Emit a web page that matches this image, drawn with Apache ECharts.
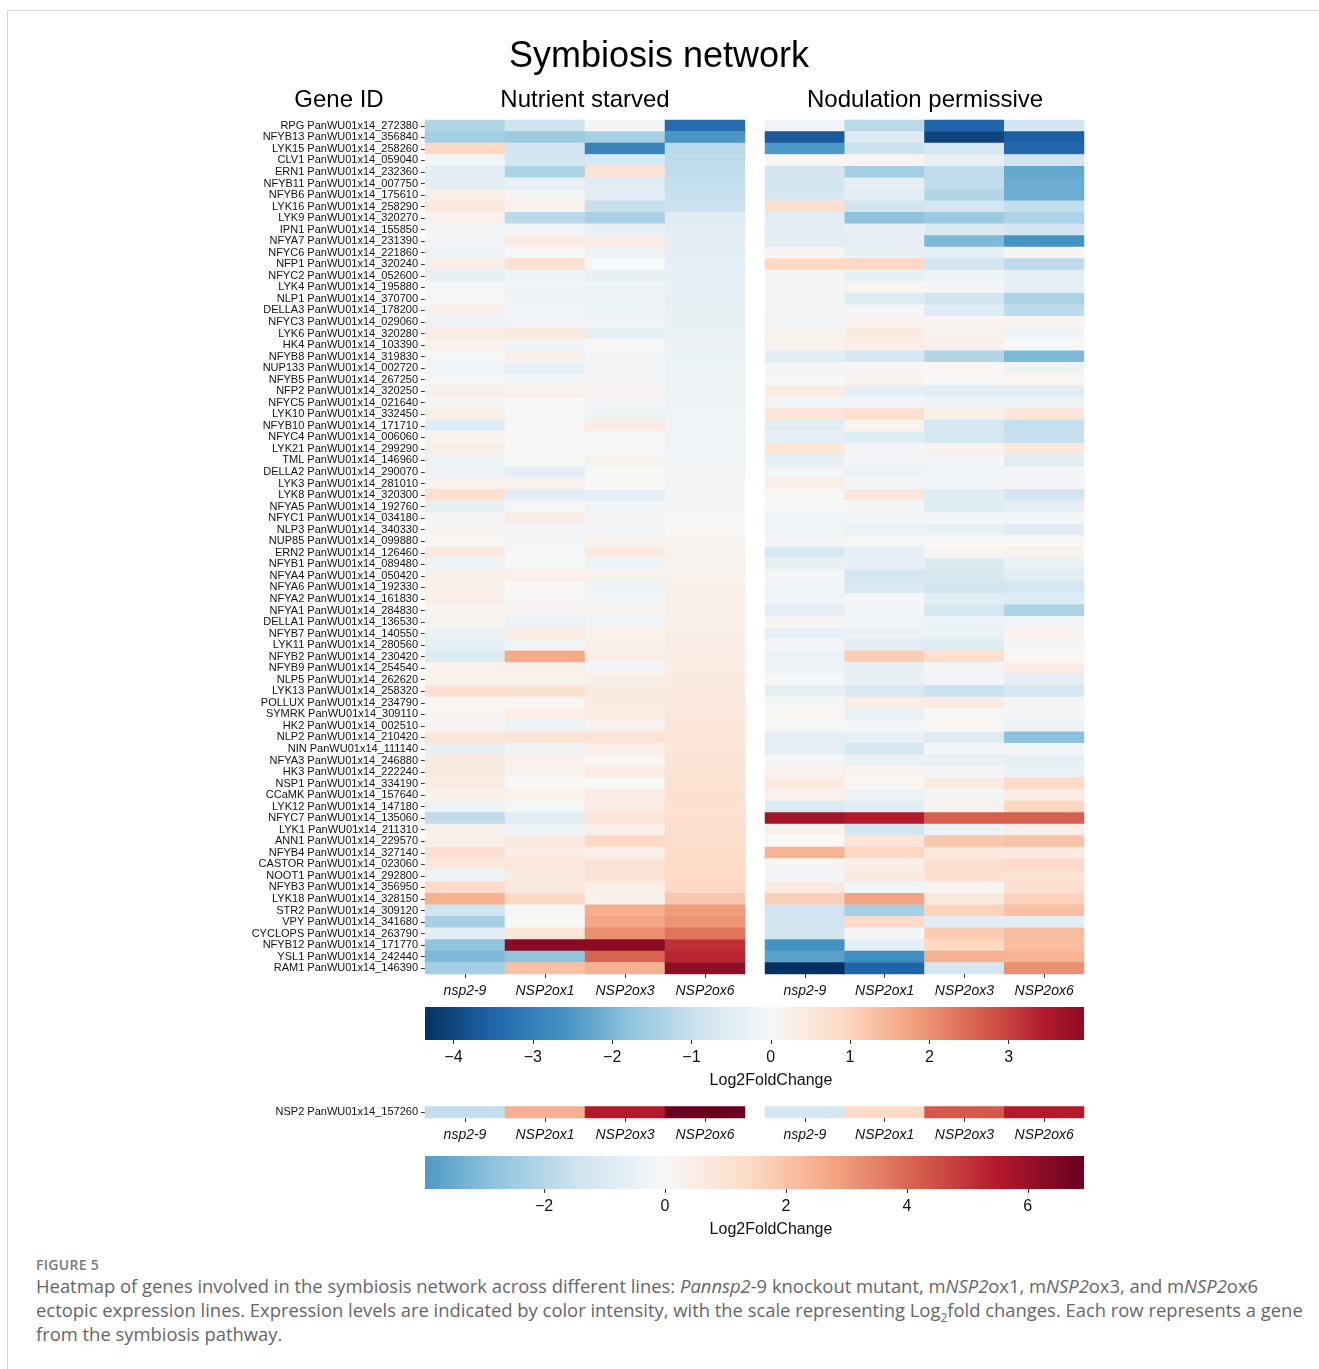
<!DOCTYPE html>
<html>
<head>
<meta charset="utf-8">
<title>Symbiosis network</title>
<script src="https://cdn.jsdelivr.net/npm/echarts@6/dist/echarts.min.js"></script>
<style>
  html, body { margin: 0; padding: 0; background: #ffffff; }
  #frame { position: absolute; left: 7px; top: 10px; width: 1340px; height: 1400px;
           border-top: 1px solid #d4d4d4; border-left: 1px solid #d4d4d4; box-sizing: border-box; }
  #chart { position: absolute; left: 0; top: 0; width: 1319px; height: 1250px; }
  #figlabel { position: absolute; left: 36px; top: 1255px; font-family: "Open Sans", sans-serif;
              font-size: 14px; font-weight: 600; color: #7a7a7a; letter-spacing: 0.3px; }
  #caption { position: absolute; left: 36px; top: 1274px; width: 1272px; font-family: "Open Sans", sans-serif;
             font-size: 18.4px; line-height: 24px; color: #666666; }
  #caption sub { font-size: 12px; line-height: 0; }
</style>
</head>
<body>
<div id="frame"></div>
<div id="chart"></div>
<div id="figlabel">FIGURE 5</div>
<div id="caption">Heatmap of genes involved in the symbiosis network across different lines: <i>Pannsp2</i>-9 knockout mutant, m<i>NSP2</i>ox1, m<i>NSP2</i>ox3, and m<i>NSP2</i>ox6 ectopic expression lines. Expression levels are indicated by color intensity, with the scale representing Log<sub>2</sub>fold changes. Each row represents a gene from the symbiosis pathway.</div>
<script>
// ---- gene rows (top to bottom) ----
const genes = [
  'RPG PanWU01x14_272380','NFYB13 PanWU01x14_356840','LYK15 PanWU01x14_258260','CLV1 PanWU01x14_059040',
  'ERN1 PanWU01x14_232360','NFYB11 PanWU01x14_007750','NFYB6 PanWU01x14_175610','LYK16 PanWU01x14_258290',
  'LYK9 PanWU01x14_320270','IPN1 PanWU01x14_155850','NFYA7 PanWU01x14_231390','NFYC6 PanWU01x14_221860',
  'NFP1 PanWU01x14_320240','NFYC2 PanWU01x14_052600','LYK4 PanWU01x14_195880','NLP1 PanWU01x14_370700',
  'DELLA3 PanWU01x14_178200','NFYC3 PanWU01x14_029060','LYK6 PanWU01x14_320280','HK4 PanWU01x14_103390',
  'NFYB8 PanWU01x14_319830','NUP133 PanWU01x14_002720','NFYB5 PanWU01x14_267250','NFP2 PanWU01x14_320250',
  'NFYC5 PanWU01x14_021640','LYK10 PanWU01x14_332450','NFYB10 PanWU01x14_171710','NFYC4 PanWU01x14_006060',
  'LYK21 PanWU01x14_299290','TML PanWU01x14_146960','DELLA2 PanWU01x14_290070','LYK3 PanWU01x14_281010',
  'LYK8 PanWU01x14_320300','NFYA5 PanWU01x14_192760','NFYC1 PanWU01x14_034180','NLP3 PanWU01x14_340330',
  'NUP85 PanWU01x14_099880','ERN2 PanWU01x14_126460','NFYB1 PanWU01x14_089480','NFYA4 PanWU01x14_050420',
  'NFYA6 PanWU01x14_192330','NFYA2 PanWU01x14_161830','NFYA1 PanWU01x14_284830','DELLA1 PanWU01x14_136530',
  'NFYB7 PanWU01x14_140550','LYK11 PanWU01x14_280560','NFYB2 PanWU01x14_230420','NFYB9 PanWU01x14_254540',
  'NLP5 PanWU01x14_262620','LYK13 PanWU01x14_258320','POLLUX PanWU01x14_234790','SYMRK PanWU01x14_309110',
  'HK2 PanWU01x14_002510','NLP2 PanWU01x14_210420','NIN PanWU01x14_111140','NFYA3 PanWU01x14_246880',
  'HK3 PanWU01x14_222240','NSP1 PanWU01x14_334190','CCaMK PanWU01x14_157640','LYK12 PanWU01x14_147180',
  'NFYC7 PanWU01x14_135060','LYK1 PanWU01x14_211310','ANN1 PanWU01x14_229570','NFYB4 PanWU01x14_327140',
  'CASTOR PanWU01x14_023060','NOOT1 PanWU01x14_292800','NFYB3 PanWU01x14_356950','LYK18 PanWU01x14_328150',
  'STR2 PanWU01x14_309120','VPY PanWU01x14_341680','CYCLOPS PanWU01x14_263790','NFYB12 PanWU01x14_171770',
  'YSL1 PanWU01x14_242440','RAM1 PanWU01x14_146390'
];
const lines = ['nsp2-9', 'NSP2ox1', 'NSP2ox3', 'NSP2ox6'];

// ---- Log2FoldChange, Nutrient starved ----
const starvedNsp29 = [-1.3,-1.5,0.9,-0.15,-0.5,-0.45,0.25,0.5,0.2,-0.08,-0.08,-0.22,0.25,-0.35,-0.05,-0.03,0.22,-0.22,0.35,0.2,
  -0.03,-0.18,-0.05,0.22,-0.08,0.25,-0.55,0.12,0.25,-0.22,-0.22,0.15,0.75,-0.35,-0.1,0.1,0.07,0.45,-0.2,0.28,
  0.22,0.28,0.1,0.1,-0.22,-0.42,-0.6,0.2,0.2,0.7,0.08,0.1,0.1,0.55,-0.35,0.38,0.38,0.32,0.22,-0.22,
  -1.1,0.22,0.25,0.7,0.45,-0.2,0.85,1.55,-0.88,-1.45,-0.45,-1.75,-1.95,-1.5];
const starvedOx1 = [-0.9,-1.6,-0.8,-0.8,-1.4,-0.35,-0.12,0.2,-1.2,-0.1,0.35,-0.03,0.7,-0.2,-0.15,-0.25,-0.18,-0.15,0.42,-0.2,
  0.22,-0.38,-0.12,0.2,-0.05,-0.03,-0.03,-0.02,-0.02,0,-0.42,0.15,-0.45,-0.05,0.3,-0.1,-0.08,-0.05,-0.05,0.18,
  -0.02,-0.03,0.13,-0.25,0.33,-0.15,1.65,0.22,0.2,0.7,0.05,0.28,-0.2,0.62,-0.22,0.18,0.15,0.02,0.2,-0.05,
  -0.52,-0.25,0.4,0.32,0.5,0.45,0.45,0.88,-0.1,0.02,0.55,3.95,-1.75,1.3];
const starvedOx3 = [-0.1,-1.45,-2.9,-0.75,0.6,-0.55,-0.45,-1.0,-1.45,-0.35,0.33,-0.2,-0.05,-0.35,-0.2,-0.22,-0.2,-0.12,-0.35,0,
  -0.08,-0.08,-0.08,0.12,-0.1,-0.22,0.35,-0.03,-0.03,0.15,0,0,-0.43,-0.15,-0.08,-0.12,0.15,0.45,-0.2,0.15,
  -0.22,-0.08,0.1,-0.15,0.2,0.25,0.28,-0.08,0.25,0.38,0.4,0.37,0.12,0.6,0.28,0.05,0.35,0.02,0.32,0.35,
  0.55,0.25,0.9,0.28,0.6,0.62,0.25,0.2,1.6,1.7,2.0,3.93,2.55,1.55];
const starvedOx6 = [-3.4,-2.55,-1.2,-1.15,-1.1,-1.05,-1.0,-0.95,-0.55,-0.5,-0.48,-0.45,-0.42,-0.4,-0.38,-0.36,-0.33,-0.32,-0.3,-0.28,
  -0.26,-0.25,-0.22,-0.2,-0.19,-0.18,-0.17,-0.16,-0.15,-0.13,-0.12,-0.1,-0.08,-0.06,0.04,0.07,0.1,0.14,0.17,0.2,
  0.22,0.24,0.26,0.28,0.3,0.32,0.35,0.37,0.4,0.45,0.48,0.5,0.53,0.56,0.58,0.61,0.64,0.66,0.69,0.72,
  0.75,0.77,0.8,0.82,0.85,0.87,0.9,1.2,1.85,1.95,2.35,3.2,3.3,3.9];

// ---- Log2FoldChange, Nodulation permissive ----
const nodNsp29 = [-0.15,-3.7,-2.5,0.1,-0.85,-0.83,-0.78,0.75,-0.48,-0.45,-0.45,0.1,0.9,-0.1,-0.1,-0.1,-0.1,-0.15,0.15,0.18,
  -0.48,-0.06,-0.05,0.38,-0.15,0.55,-0.48,-0.4,0.55,-0.4,-0.1,0.25,0,0,-0.18,-0.18,-0.1,-0.7,-0.35,-0.1,
  -0.18,-0.18,-0.42,0.1,-0.38,-0.1,-0.25,-0.2,-0.05,-0.35,-0.05,0.08,-0.05,-0.43,-0.43,-0.08,0.18,0.45,0.18,-0.65,
  3.65,0.2,0,1.52,0.1,-0.1,0.45,1.05,-0.85,-0.85,-0.85,-2.6,-2.35,-4.36];
const nodOx1 = [-1.2,-0.6,-0.95,0.12,-1.5,-0.37,-0.48,-0.87,-1.78,-0.35,-0.42,-0.32,0.9,-0.32,0.1,-0.58,-0.1,0.12,0.38,0.3,
  -0.78,-0.03,0.15,-0.43,-0.15,0.75,0.15,-0.55,-0.12,-0.12,-0.25,-0.08,0.48,-0.1,-0.1,-0.22,-0.05,-0.38,-0.38,-0.78,
  -0.7,-0.1,-0.12,-0.15,-0.28,-0.48,1.1,-0.35,-0.35,-0.68,0.33,-0.3,-0.08,-0.35,-0.78,-0.3,0.1,0.08,-0.22,-0.48,
  3.5,-0.85,0.62,0.92,0.25,0.4,-0.18,1.75,-1.45,0.85,-0.08,-0.43,-2.7,-3.5];
const nodOx3 = [-3.5,-4.05,-0.78,-0.35,-1.1,-1.12,-1.3,-0.85,-1.62,-0.65,-1.95,-0.43,-0.8,-0.22,-0.08,-0.85,-0.58,0.12,0.12,0.22,
  -1.3,0.07,0.05,-0.5,-0.22,0.25,-0.78,-0.78,0.15,-0.08,-0.15,-0.15,-0.48,-0.58,-0.1,-0.3,0,0.12,-0.65,-0.72,
  -0.82,-0.52,-0.78,-0.22,-0.3,-0.58,0.75,-0.08,-0.12,-0.95,0.33,-0.02,0.08,-0.58,-0.08,-0.35,-0.08,0.38,-0.08,0.18,
  2.62,-0.25,1.2,0.48,0.75,0.75,0.1,0.45,1.0,-0.48,1.15,0.92,1.55,-0.85];
const nodOx6 = [-0.8,-3.6,-3.45,-0.85,-2.25,-2.15,-2.15,-1.08,-1.38,-0.8,-2.6,0.1,-1.15,-0.43,-0.4,-1.38,-1.12,0.1,-0.2,0.02,
  -1.95,-0.2,0.07,-0.5,-0.22,0.55,-1.05,-0.98,0.48,-0.52,-0.08,-0.08,-0.85,-0.43,-0.1,-0.48,0,0.15,-0.3,-0.5,
  -0.78,-0.6,-1.4,-0.15,0.18,-0.08,0.05,0.32,-0.43,-0.78,-0.08,-0.08,-0.22,-1.8,-0.12,-0.38,-0.3,0.85,0.32,0.95,
  2.62,0.3,1.28,0.42,0.85,0.65,0.7,1.0,1.3,-0.52,1.35,1.35,1.52,2.0];

// ---- NSP2 itself, on its own scale ----
const nsp2Gene = ['NSP2 PanWU01x14_157260'];
const nsp2Starved = [-1.7, 2.5, 5.5, 6.9];
const nsp2Nodulation = [-1.25, 1.4, 4.3, 5.5];

// ---- colour scale ranges and tick labels ----
const mainRange = [-4.36, 3.95];
const mainTicks = [-4, -3, -2, -1, 0, 1, 2, 3];
const nsp2Range = [-3.97, 6.93];
const nsp2Ticks = [-2, 0, 2, 4, 6];

// Diverging red-blue palette (reversed RdBu), centred on zero
const RDBU_R = ['#053061','#2166ac','#4393c3','#92c5de','#d1e5f0','#f7f7f7','#fddbc7','#f4a582','#d6604d','#b2182b','#67001f'];
function hexToRgb(h) { return [parseInt(h.slice(1,3),16), parseInt(h.slice(3,5),16), parseInt(h.slice(5,7),16)]; }
function cmap(t) {
  t = Math.max(0, Math.min(1, t));
  const p = t * (RDBU_R.length - 1);
  const i = Math.min(Math.floor(p), RDBU_R.length - 2);
  const f = p - i;
  const a = hexToRgb(RDBU_R[i]), b = hexToRgb(RDBU_R[i + 1]);
  const c = a.map((v, k) => Math.round(v + (b[k] - v) * f));
  return 'rgb(' + c.join(',') + ')';
}
// colours sampled evenly across [lo, hi], with white fixed at 0
function sampleColors(lo, hi, n) {
  const half = Math.max(Math.abs(lo), Math.abs(hi));
  const out = [];
  for (let k = 0; k < n; k++) {
    const v = lo + (hi - lo) * k / (n - 1);
    out.push(cmap(0.5 + v / (2 * half)));
  }
  return out;
}
const N_STOPS = 96;
const mainColors = sampleColors(mainRange[0], mainRange[1], N_STOPS);
const nsp2Colors = sampleColors(nsp2Range[0], nsp2Range[1], N_STOPS);

function cells(columns) {
  const out = [];
  columns.forEach((col, c) => col.forEach((v, r) => out.push([c, r, v])));
  return out;
}
const starvedCells = cells([starvedNsp29, starvedOx1, starvedOx3, starvedOx6]);
const nodCells = cells([nodNsp29, nodOx1, nodOx3, nodOx6]);
const nsp2StarvedCells = nsp2Starved.map((v, c) => [c, 0, v]);
const nsp2NodCells = nsp2Nodulation.map((v, c) => [c, 0, v]);

const FONT = '"Liberation Sans", Arial, sans-serif';
const TICK_COLOR = '#333';

function lineAxis(gridIndex) {
  return {
    type: 'category', data: lines, gridIndex: gridIndex, position: 'bottom',
    axisLine: { show: false },
    axisTick: { show: true, alignWithLabel: true, length: 4, lineStyle: { color: TICK_COLOR } },
    axisLabel: { fontFamily: FONT, fontSize: 14, fontStyle: 'italic', color: '#111', margin: 10, interval: 0 },
    splitLine: { show: false }
  };
}
function geneAxis(gridIndex, data, show) {
  return {
    type: 'category', data: data, gridIndex: gridIndex, inverse: true,
    axisLine: { show: false },
    axisTick: { show: show, alignWithLabel: true, length: 4, lineStyle: { color: TICK_COLOR } },
    axisLabel: { show: show, fontFamily: FONT, fontSize: 11, color: '#111', margin: 7, interval: 0 },
    splitLine: { show: false }
  };
}
function barAxis(gridIndex, range, ticks) {
  return {
    type: 'value', gridIndex: gridIndex, min: range[0], max: range[1],
    axisLine: { show: false }, splitLine: { show: false },
    axisTick: { show: true, length: 4, customValues: ticks, lineStyle: { color: TICK_COLOR } },
    axisLabel: { customValues: ticks, fontFamily: FONT, fontSize: 16, color: '#111', margin: 10,
                 formatter: v => (v < 0 ? '\u2212' + Math.abs(v) : String(v)) },
    name: 'Log2FoldChange', nameLocation: 'middle', nameGap: 33,
    nameTextStyle: { fontFamily: FONT, fontSize: 16, color: '#111', padding: [0, 0, 0, 33] }
  };
}
function colorBar(xIndex, yIndex, range, colors) {
  const stops = colors.map((c, k) => ({ offset: k / (colors.length - 1), color: c }));
  return {
    type: 'custom', xAxisIndex: xIndex, yAxisIndex: yIndex, silent: true,
    encode: { x: [0, 1] },
    data: [[range[0], range[1]]],
    renderItem: function (params, api) {
      const p0 = api.coord([api.value(0), 0]);
      const p1 = api.coord([api.value(1), 1]);
      return {
        type: 'rect',
        shape: { x: p0[0], y: p1[1], width: p1[0] - p0[0], height: p0[1] - p1[1] },
        style: { fill: new echarts.graphic.LinearGradient(0, 0, 1, 0, stops) }
      };
    }
  };
}
function heat(xIndex, yIndex, data) {
  return {
    type: 'heatmap', xAxisIndex: xIndex, yAxisIndex: yIndex, data: data,
    itemStyle: { borderWidth: 0 }, emphasis: { disabled: true }, progressive: 0
  };
}

const chart = echarts.init(document.getElementById('chart'), null, { renderer: 'canvas' });
chart.setOption({
  backgroundColor: 'transparent',
  animation: false,
  graphic: [
    { type: 'text', x: 659, y: 57, style: { text: 'Symbiosis network', font: '36px ' + FONT, fill: '#000', align: 'center', verticalAlign: 'middle' } },
    { type: 'text', x: 339, y: 100, style: { text: 'Gene ID', font: '24px ' + FONT, fill: '#000', align: 'center', verticalAlign: 'middle' } },
    { type: 'text', x: 585, y: 100, style: { text: 'Nutrient starved', font: '24px ' + FONT, fill: '#000', align: 'center', verticalAlign: 'middle' } },
    { type: 'text', x: 925, y: 100, style: { text: 'Nodulation permissive', font: '24px ' + FONT, fill: '#000', align: 'center', verticalAlign: 'middle' } }
  ],
  grid: [
    { left: 425, top: 120, width: 320, height: 854 },
    { left: 765, top: 120, width: 319, height: 854 },
    { left: 425, top: 1007, width: 659, height: 33 },
    { left: 425, top: 1106.5, width: 320, height: 11.5 },
    { left: 765, top: 1106.5, width: 319, height: 11.5 },
    { left: 425, top: 1156, width: 659, height: 33 }
  ],
  xAxis: [
    lineAxis(0), lineAxis(1),
    barAxis(2, mainRange, mainTicks),
    lineAxis(3), lineAxis(4),
    barAxis(5, nsp2Range, nsp2Ticks)
  ],
  yAxis: [
    geneAxis(0, genes, true), geneAxis(1, genes, false),
    { type: 'value', gridIndex: 2, min: 0, max: 1, show: false },
    geneAxis(3, nsp2Gene, true), geneAxis(4, nsp2Gene, false),
    { type: 'value', gridIndex: 5, min: 0, max: 1, show: false }
  ],
  visualMap: [
    { type: 'continuous', show: false, seriesIndex: [0, 1], dimension: 2,
      min: mainRange[0], max: mainRange[1], inRange: { color: mainColors } },
    { type: 'continuous', show: false, seriesIndex: [3, 4], dimension: 2,
      min: nsp2Range[0], max: nsp2Range[1], inRange: { color: nsp2Colors } }
  ],
  series: [
    heat(0, 0, starvedCells),
    heat(1, 1, nodCells),
    colorBar(2, 2, mainRange, mainColors),
    heat(3, 3, nsp2StarvedCells),
    heat(4, 4, nsp2NodCells),
    colorBar(5, 5, nsp2Range, nsp2Colors)
  ]
});
</script>
</body>
</html>
